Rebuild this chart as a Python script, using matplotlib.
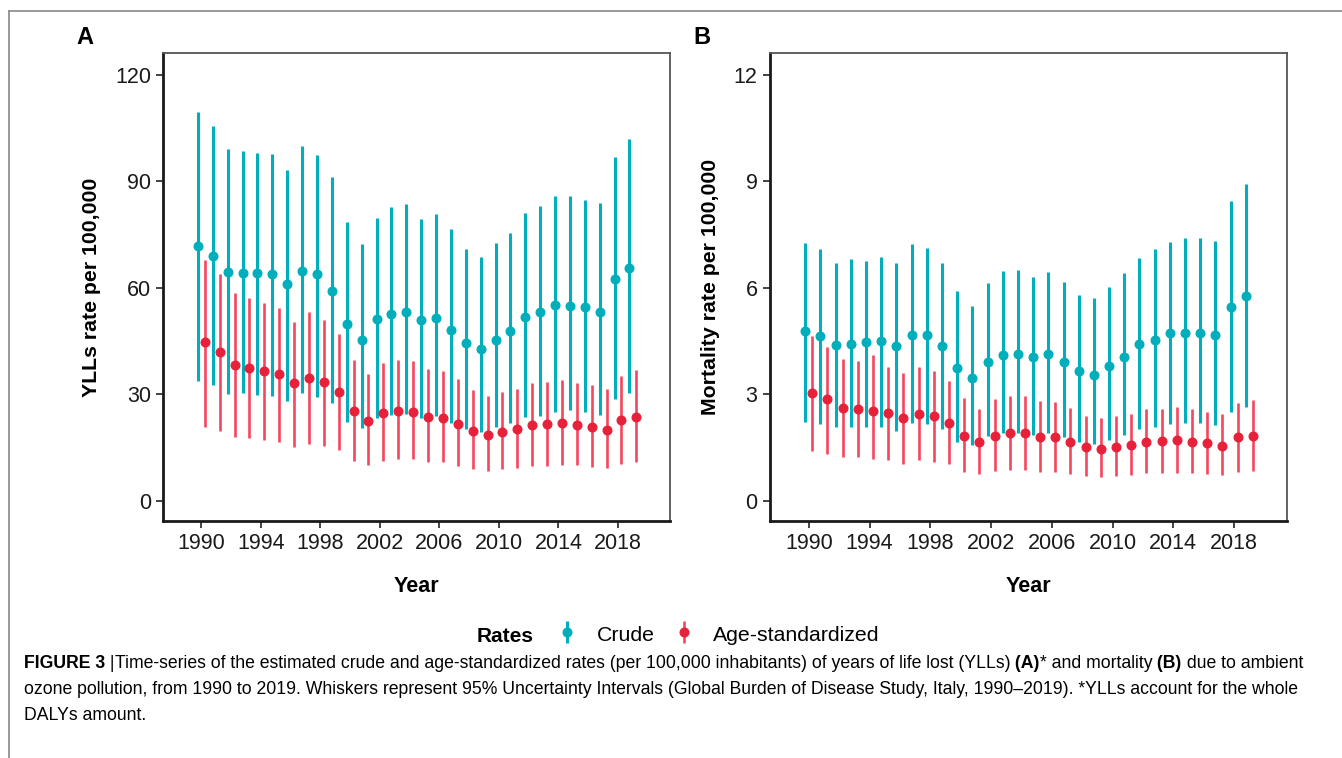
import numpy as np
import matplotlib.pyplot as plt
from matplotlib.lines import Line2D

plt.rcParams['font.family'] = ['Liberation Sans', 'DejaVu Sans']

years = np.arange(1990, 2020)

# Panel A: YLLs rate per 100,000
yll_crude = [71.9, 69.0, 64.6, 64.3, 64.3, 63.8, 61.0, 64.8, 63.9, 59.2,
             49.8, 45.3, 51.1, 52.7, 53.1, 50.9, 51.4, 48.1, 44.5, 42.7,
             45.4, 47.8, 51.9, 53.3, 55.2, 54.9, 54.6, 53.3, 62.4, 65.5]
yll_crude_lo = [33.7, 32.6, 30.1, 30.5, 29.8, 29.6, 28.1, 30.3, 29.3, 27.6,
                22.3, 20.4, 23.4, 24.2, 24.6, 23.4, 23.9, 21.8, 20.1, 19.3,
                20.7, 22.0, 23.5, 24.0, 25.1, 25.6, 24.9, 24.2, 28.7, 30.5]
yll_crude_hi = [109.7, 105.6, 99.2, 98.7, 98.1, 97.8, 93.3, 100.0, 97.4, 91.2,
                78.7, 72.4, 79.8, 82.9, 83.6, 79.4, 80.7, 76.5, 71.0, 68.8,
                72.7, 75.6, 81.2, 83.2, 85.9, 85.9, 84.8, 84.0, 97.0, 102.0]
yll_age = [44.7, 41.8, 38.3, 37.3, 36.7, 35.6, 33.2, 34.5, 33.5, 30.6,
           25.2, 22.4, 24.8, 25.3, 25.1, 23.7, 23.4, 21.6, 19.7, 18.5,
           19.5, 20.1, 21.3, 21.6, 21.9, 21.3, 20.9, 19.9, 22.9, 23.7]
yll_age_lo = [20.9, 19.7, 17.9, 17.6, 17.1, 16.6, 15.2, 16.1, 15.4, 14.3,
              11.3, 10.1, 11.3, 11.7, 11.7, 11.0, 11.0, 9.9, 8.9, 8.5,
              8.9, 9.3, 9.9, 9.9, 10.1, 10.1, 9.6, 9.1, 10.3, 11.0]
yll_age_hi = [68.0, 63.8, 58.6, 57.2, 55.8, 54.2, 50.5, 53.1, 50.9, 47.0,
              39.8, 35.7, 38.7, 39.7, 39.5, 37.1, 36.7, 34.2, 31.2, 29.5,
              30.7, 31.4, 33.3, 33.6, 34.0, 33.3, 32.6, 31.4, 35.2, 36.8]

# Panel B: Mortality rate per 100,000
mort_crude = [4.78, 4.64, 4.39, 4.43, 4.47, 4.49, 4.36, 4.67, 4.67, 4.37,
              3.73, 3.45, 3.92, 4.11, 4.15, 4.04, 4.14, 3.92, 3.66, 3.54,
              3.80, 4.04, 4.41, 4.53, 4.72, 4.74, 4.74, 4.67, 5.47, 5.78]
mort_crude_lo = [2.23, 2.16, 2.07, 2.07, 2.09, 2.07, 1.97, 2.18, 2.15, 2.01,
                 1.66, 1.57, 1.83, 1.90, 1.92, 1.85, 1.92, 1.79, 1.66, 1.60,
                 1.71, 1.85, 2.01, 2.07, 2.15, 2.20, 2.18, 2.13, 2.49, 2.65]
mort_crude_hi = [7.27, 7.09, 6.71, 6.81, 6.77, 6.86, 6.71, 7.23, 7.13, 6.71,
                 5.92, 5.50, 6.13, 6.48, 6.51, 6.32, 6.44, 6.17, 5.80, 5.71,
                 6.03, 6.41, 6.83, 7.10, 7.28, 7.42, 7.42, 7.32, 8.46, 8.93]
mort_age = [3.05, 2.86, 2.62, 2.58, 2.54, 2.48, 2.32, 2.44, 2.39, 2.20,
            1.83, 1.65, 1.83, 1.90, 1.90, 1.80, 1.80, 1.66, 1.52, 1.45,
            1.52, 1.57, 1.66, 1.68, 1.71, 1.66, 1.62, 1.55, 1.79, 1.83]
mort_age_lo = [1.40, 1.32, 1.22, 1.22, 1.17, 1.15, 1.05, 1.15, 1.10, 1.03,
               0.82, 0.75, 0.85, 0.87, 0.87, 0.82, 0.82, 0.75, 0.70, 0.66,
               0.70, 0.72, 0.77, 0.77, 0.79, 0.77, 0.75, 0.72, 0.82, 0.85]
mort_age_hi = [4.64, 4.34, 4.01, 3.95, 4.11, 3.78, 3.59, 3.78, 3.67, 3.38,
               2.90, 2.60, 2.86, 2.96, 2.96, 2.82, 2.79, 2.62, 2.40, 2.32,
               2.40, 2.46, 2.60, 2.60, 2.65, 2.60, 2.51, 2.44, 2.75, 2.84]

teal = '#00AFBB'
red_line = '#F5475C'
red_pt = '#E8213A'
dodge = 0.23
W, H = 1342, 758

fig = plt.figure(figsize=(13.42, 7.58), dpi=100)
axA = fig.add_axes([0.1218, 0.3131, 0.3775, 0.6166])
axB = fig.add_axes([0.5738, 0.3131, 0.3854, 0.6166])


def draw(ax, c, clo, chi, a, alo, ahi, ymax, ylabel):
    c, clo, chi = np.array(c), np.array(clo), np.array(chi)
    a, alo, ahi = np.array(a), np.array(alo), np.array(ahi)
    ax.errorbar(years - dodge, c, yerr=[c - clo, chi - c], fmt='o', color=teal,
                ecolor=teal, elinewidth=2.2, ms=6.2, capsize=0)
    ax.errorbar(years + dodge, a, yerr=[a - alo, ahi - a], fmt='o', color=red_pt,
                ecolor=red_line, elinewidth=1.9, ms=6.2, capsize=0)
    ax.set_xlim(1987.45, 2021.5)
    ax.set_ylim(-0.0467 * ymax, 1.051 * ymax)
    ax.set_xticks(np.arange(1990, 2019, 4))
    ax.set_yticks(np.linspace(0, ymax, 5))
    ax.set_yticklabels([f'{v:g}' for v in np.linspace(0, ymax, 5)])
    ax.tick_params(labelsize=15.5, length=5, width=1.2, color='#222222',
                   labelcolor='#1a1a1a', pad=4)
    for s in ['left', 'bottom']:
        ax.spines[s].set_linewidth(2)
        ax.spines[s].set_color('#1a1a1a')
    for s in ['top', 'right']:
        ax.spines[s].set_linewidth(1.3)
        ax.spines[s].set_color('#555555')
    ax.set_xlabel('Year', fontsize=15.5, fontweight='bold', labelpad=16)
    ax.set_ylabel(ylabel, fontsize=15.3, fontweight='bold', labelpad=10)


draw(axA, yll_crude, yll_crude_lo, yll_crude_hi, yll_age, yll_age_lo, yll_age_hi,
     120, 'YLLs rate per 100,000')
draw(axB, mort_crude, mort_crude_lo, mort_crude_hi, mort_age, mort_age_lo, mort_age_hi,
     12, 'Mortality rate per 100,000')

fig.text(85 / W, 1 - 38 / H, 'A', fontsize=17, fontweight='bold', ha='center', va='center')
fig.text(702 / W, 1 - 38 / H, 'B', fontsize=17, fontweight='bold', ha='center', va='center')

# legend
fig.text(477 / W, 1 - 636 / H, 'Rates', fontsize=15, fontweight='bold', va='center')
h1 = axA.errorbar([], [], yerr=[], fmt='o', color=teal, ecolor=teal, elinewidth=2.2, ms=6.2)
h2 = axA.errorbar([], [], yerr=[], fmt='o', color=red_pt, ecolor=red_line, elinewidth=1.9, ms=6.2)
fig.legend([h1, h2], ['Crude', 'Age-standardized'], loc='center left',
           bbox_to_anchor=(531 / W, 1 - 634 / H), ncol=2, frameon=False,
           fontsize=15.3, handlelength=1.6, handletextpad=0.6, columnspacing=0.55,
           handleheight=1.2)

# caption, drawn piece by piece so bold parts sit inline
renderer = fig.canvas.get_renderer()
cap_fs = 12.7


def caption_line(y, parts):
    x = 24 / W
    for txt, bold in parts:
        t = fig.text(x, 1 - y / H, txt, fontsize=cap_fs, va='center',
                     fontweight='bold' if bold else 'normal')
        x = t.get_window_extent(renderer).x1 / W


caption_line(663, [('FIGURE 3', True), (' |', False),
                   ('Time-series of the estimated crude and age-standardized rates (per 100,000 '
                    'inhabitants) of years of life lost (YLLs)', False),
                   (' (A)', True), ('* and mortality', False), (' (B)', True),
                   (' due to ambient', False)])
caption_line(690, [('ozone pollution, from 1990 to 2019. Whiskers represent 95% Uncertainty '
                    'Intervals (Global Burden of Disease Study, Italy, 1990\u20132019). '
                    '*YLLs account for the whole', False)])
caption_line(716, [('DALYs amount.', False)])

# outer frame (top and left edges)
fig.add_artist(Line2D([9 / W, 1], [1 - 10.7 / H] * 2, color='#888888', lw=1.2))
fig.add_artist(Line2D([9 / W] * 2, [0, 1 - 10.7 / H], color='#888888', lw=1.2))

fig.savefig('out.png', dpi=100)
